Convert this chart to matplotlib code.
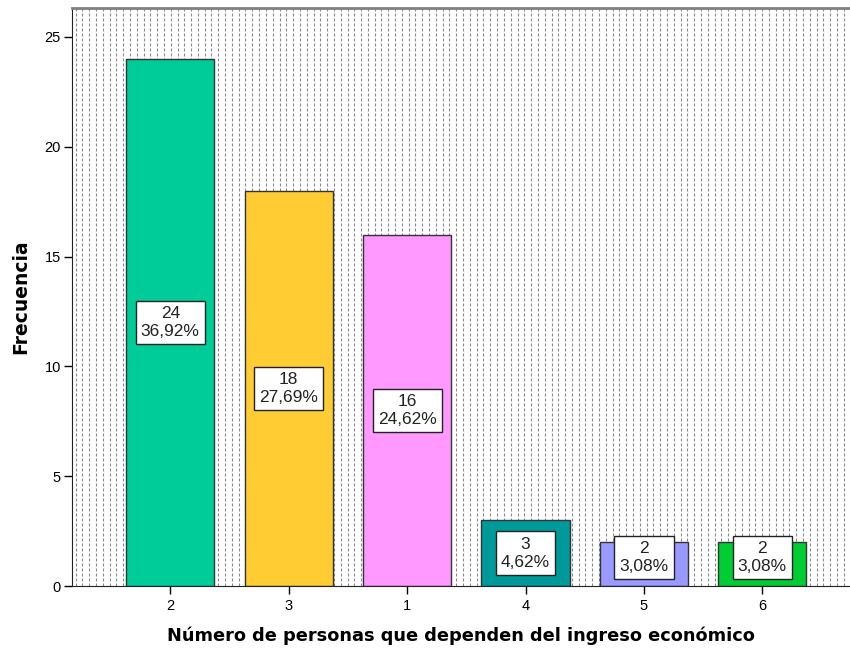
import matplotlib
matplotlib.use('Agg')
import matplotlib.pyplot as plt
import numpy as np

# datos
categorias = ['2', '3', '1', '4', '5', '6']
frecuencias = [24, 18, 16, 3, 2, 2]
porcentajes = ['36,92%', '27,69%', '24,62%', '4,62%', '3,08%', '3,08%']
colores = ['#00CC99', '#FFCC33', '#FF99FF', '#009999', '#9999FF', '#00CC33']

plt.rcParams['font.family'] = ['Liberation Sans', 'DejaVu Sans']

fig = plt.figure(figsize=(8.5, 6.48), dpi=100)
ax = fig.add_axes([72 / 850, 62 / 648, 778 / 850, 578 / 648])

# fondo punteado (líneas verticales)
xs = np.arange(3.5 / 778, 1.0, 6.8 / 778)
ax.vlines(xs, 0, 1, transform=ax.transAxes, colors='#8a8a8a',
          linewidth=0.8, linestyles=[(0, (2.7, 1.8))], zorder=0)

pos = np.arange(len(categorias))
ax.bar(pos, frecuencias, width=0.745, color=colores, edgecolor='#333333',
       linewidth=1.0, zorder=2)

for p, f, pc in zip(pos, frecuencias, porcentajes):
    y = max(f / 2, 1.3)
    ax.text(p, y, f'{f}\n{pc}', ha='center', va='center', fontsize=12.5,
            linespacing=1.25, zorder=3, color='#222222',
            bbox=dict(boxstyle='square,pad=0.3', facecolor='white',
                      edgecolor='#222222', linewidth=1.0))

ax.set_xlim(-0.83, 5.74)
ax.set_ylim(0, 26.32)
ax.set_xticks(pos)
ax.set_xticklabels(categorias, fontsize=10.5)
ax.set_yticks([0, 5, 10, 15, 20, 25])
ax.tick_params(axis='y', labelsize=10.5, length=6, width=1, pad=2)
ax.tick_params(axis='x', length=6, width=1, pad=3)

ax.spines['right'].set_visible(False)
ax.spines['top'].set_color('#808080')
ax.spines['top'].set_linewidth(2)
ax.spines['left'].set_color('#222222')
ax.spines['bottom'].set_color('#222222')

ax.set_xlabel('Número de personas que dependen del ingreso económico',
              family='DejaVu Sans', fontweight='bold', fontsize=12.8, labelpad=10)
ax.set_ylabel('Frecuencia', family='DejaVu Sans', fontweight='bold',
              fontsize=13.5, labelpad=10)

fig.savefig('out.png', dpi=100)
